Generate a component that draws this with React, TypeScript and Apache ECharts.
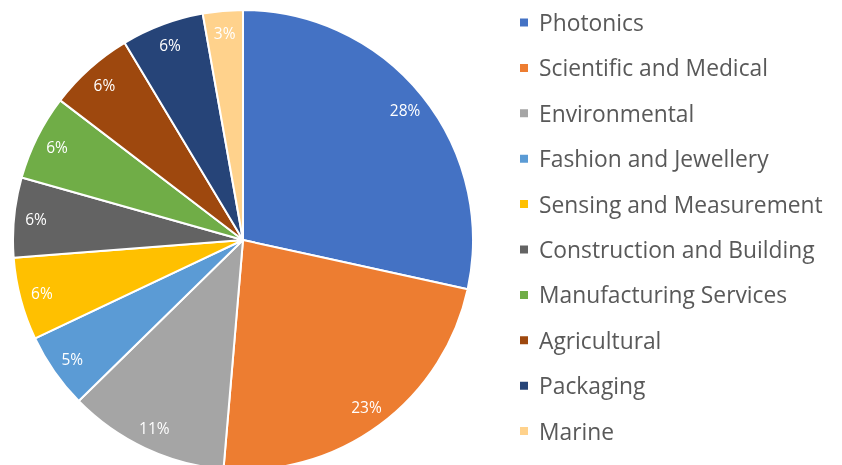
import React, { useEffect, useRef } from "react";
import * as echarts from "echarts";

const categories = [
  "Photonics",
  "Scientific and Medical",
  "Environmental",
  "Fashion and Jewellery",
  "Sensing and Measurement",
  "Construction and Building",
  "Manufacturing Services",
  "Agricultural",
  "Packaging",
  "Marine",
];
const values = [28.4, 22.9, 11.3, 5.3, 5.8, 5.6, 6.0, 6.0, 5.8, 2.8];
const colors = [
  "#4472C4",
  "#ED7D31",
  "#A5A5A5",
  "#5B9BD5",
  "#FFC000",
  "#636363",
  "#70AD47",
  "#9E480E",
  "#264478",
  "#FFD28C",
];

export default function App() {
  const ref = useRef<HTMLDivElement>(null);
  useEffect(() => {
    const chart = echarts.init(ref.current!, null, { renderer: "svg" });
    const data = categories.map((name, i) => ({
      name,
      value: values[i],
      itemStyle: { color: colors[i] },
    }));
    const total = values.reduce((a, b) => a + b, 0);
    chart.setOption({
      animation: false,
      color: colors,
      legend: {
        orient: "vertical",
        left: 513,
        top: 6,
        icon: "rect",
        itemWidth: 10,
        itemHeight: 10,
        itemGap: 22.4,
        data: categories,
        textStyle: {
          fontFamily: "Open Sans",
          fontSize: 22.8,
          lineHeight: 22,
          color: "#595959",
          padding: [0, 0, 0, 5],
        },
      },
      series: [
        {
          type: "pie",
          center: [243, 240],
          radius: [0, 230],
          startAngle: 90,
          clockwise: true,
          silent: true,
          data,
          label: { show: false },
          labelLine: { show: false },
          itemStyle: { borderColor: "#ffffff", borderWidth: 2 },
        },
        {
          type: "pie",
          center: [243, 240],
          radius: [180, 230],
          startAngle: 90,
          clockwise: true,
          silent: true,
          data: categories.map((name, i) => ({
            name: name + " ",
            value: values[i],
            itemStyle: { color: "transparent" },
          })),
          label: {
            show: true,
            position: "inside",
            formatter: (p: any) => Math.round((p.value / total) * 100) + "%",
            color: "#ffffff",
            fontFamily: "Open Sans",
            fontSize: 15.5,
          },
          labelLine: { show: false },
          itemStyle: { borderWidth: 0 },
        },
      ],
    });
    return () => chart.dispose();
  }, []);
  return (
    <div
      ref={ref}
      style={{ position: "fixed", left: 0, top: 0, width: 842, height: 465 }}
    />
  );
}
